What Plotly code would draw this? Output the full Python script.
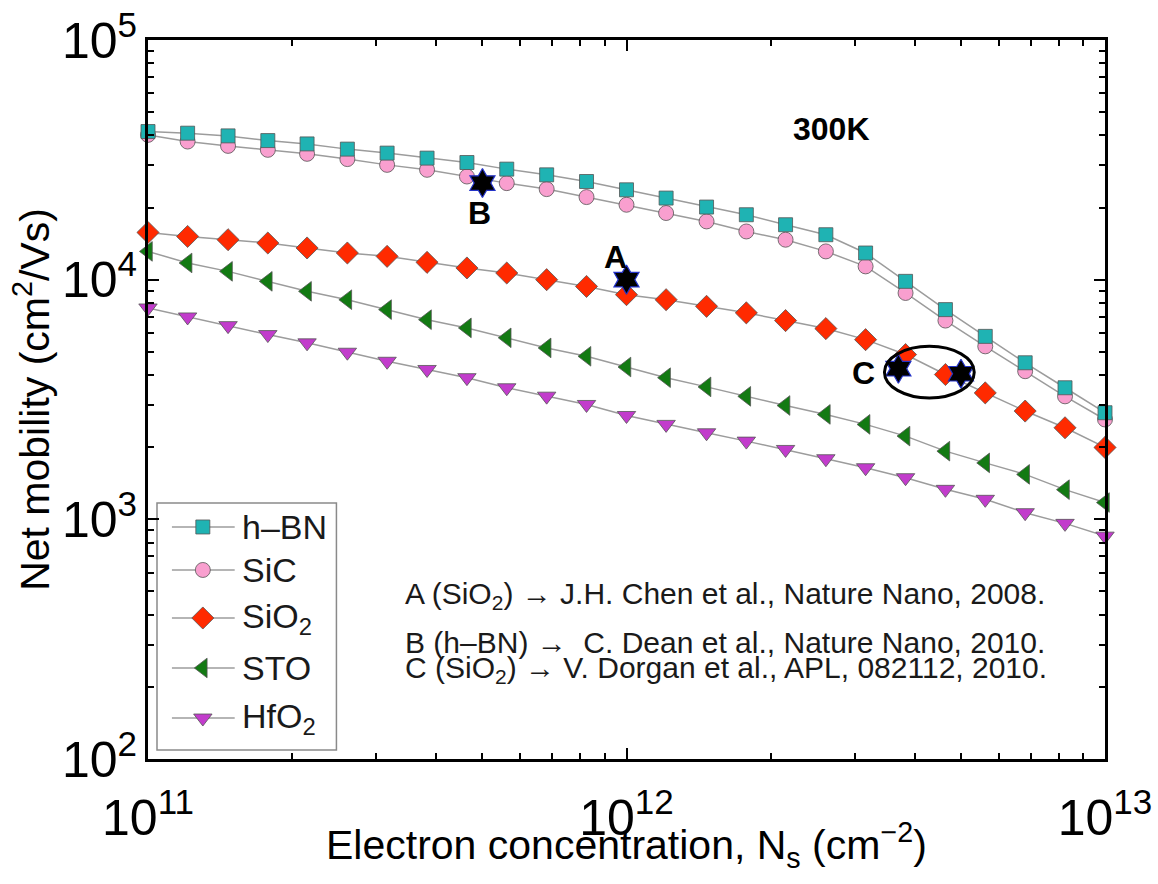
import math
import plotly.graph_objects as go

# Electron concentration grid (cm^-2), log-spaced samples
ns = [1.00e11, 1.21e11, 1.47e11, 1.78e11, 2.15e11, 2.61e11, 3.16e11, 3.83e11,
      4.64e11, 5.62e11, 6.81e11, 8.25e11, 1.00e12, 1.21e12, 1.47e12, 1.78e12,
      2.15e12, 2.61e12, 3.16e12, 3.83e12, 4.64e12, 5.62e12, 6.81e12, 8.25e12,
      1.00e13]

# Net mobility (cm^2/Vs) on each substrate
mu_hbn = [41500, 40850, 39800, 38050, 36850, 35050, 33730, 32150, 30820, 28920,
          27380, 25680, 23710, 21900, 20090, 18660, 16950, 15400, 12920, 9840,
          7500, 5800, 4500, 3540, 2785]
mu_sic = [40190, 37700, 36160, 34810, 33500, 31850, 30130, 28730, 26940, 25280,
          23870, 22110, 20540, 18970, 17500, 15890, 14680, 13120, 11360, 8800,
          6750, 5270, 4150, 3260, 2610]
mu_sio2 = [15740, 15150, 14680, 14220, 13560, 12920, 12510, 11810, 11190, 10660,
           10000, 9370, 8660, 8250, 7740, 7270, 6750, 6250, 5620, 4870,
           4020, 3370, 2830, 2410, 1995]
mu_sto = [13120, 11740, 10830, 9840, 8940, 8250, 7500, 6810, 6290, 5720,
          5190, 4790, 4320, 3900, 3570, 3260, 2985, 2740, 2490, 2225,
          1925, 1720, 1540, 1330, 1175]
mu_hfo2 = [7620, 6990, 6430, 5900, 5450, 4980, 4566, 4220, 3900, 3540,
           3265, 3015, 2712, 2490, 2297, 2120, 1957, 1790, 1642, 1492,
           1334, 1212, 1066, 962, 851]

# Experimental data points A, B, C
exp_ns = [1.0e12, 5.0e11, 3.7e12, 5.0e12]
exp_mu = [10000, 25300, 4250, 4050]

# Tags for the experimental points: (letter, Ns, mobility)
tags = [("A", 9.5e11, 12470), ("B", 4.94e11, 19000), ("C", 3.13e12, 4060)]

# Literature sources of the experimental points
sources = [
    "A (SiO<sub>2</sub>) \u2192 J.H. Chen et al., Nature Nano, 2008.",
    "B (h\u2013BN) \u2192  C. Dean et al., Nature Nano, 2010.",
    "C (SiO<sub>2</sub>) \u2192 V. Dorgan et al., APL, 082112, 2010.",
]

FONT = "Liberation Sans, Arial, Helvetica, sans-serif"
LINE = dict(color="#9c9c9c", width=1.5)
EDGE = dict(color="#555555", width=0.8)

# name, values, symbol, colour, size  (legend order)
series = [
    ("h\u2013BN", mu_hbn, "square", "#1fb3b3", 14),
    ("SiC", mu_sic, "circle", "#f99fcf", 15),
    ("SiO<sub>2</sub>", mu_sio2, "diamond", "#ff2a00", 17),
    ("STO", mu_sto, "triangle-left", "#137a13", 17),
    ("HfO<sub>2</sub>", mu_hfo2, "triangle-down", "#c23ccc", 16),
]

fig = go.Figure()

# SiC first so the h-BN squares sit on top of the circles
draw_order = [1, 0, 2, 3, 4]
for k in draw_order:
    name, vals, sym, col, size = series[k]
    fig.add_trace(go.Scatter(
        x=ns, y=vals, name=name, mode="lines+markers", showlegend=False,
        line=LINE, cliponaxis=False,
        marker=dict(symbol=sym, color=col, size=size, line=EDGE),
    ))

fig.add_trace(go.Scatter(
    x=exp_ns, y=exp_mu, mode="markers", showlegend=False, cliponaxis=False,
    marker=dict(symbol="hexagram", color="black", size=22,
                line=dict(color="#2433c8", width=1.2)),
))

for t, xv, yv in tags:
    fig.add_annotation(x=math.log10(xv), y=math.log10(yv), text=f"<b>{t}</b>",
                       showarrow=False, font=dict(family=FONT, size=32, color="black"))

fig.add_annotation(x=math.log10(2.68e12), y=math.log10(42500), text="<b>300K</b>",
                   showarrow=False, font=dict(family=FONT, size=32, color="black"))

# ellipse around the C points
fig.add_shape(type="circle", xref="x", yref="y",
              x0=3.46e12, x1=5.33e12, y0=3210, y1=5270,
              line=dict(color="black", width=3))

for txt, yp in zip(sources, [0.227, 0.162, 0.124]):
    fig.add_annotation(xref="paper", yref="paper", x=0.266, y=yp, text=txt,
                       xanchor="left", yanchor="middle", showarrow=False,
                       font=dict(family=FONT, size=30, color="#1a1a1a"))

# ---- legend box drawn on an overlay axis pair spanning the plot area (0..1) ----
leg_y = [0.3227, 0.2629, 0.1961, 0.1266, 0.0570]
seg_x = [0.025, 0.0906]
mark_x = 0.0573
fig.add_shape(type="rect", xref="paper", yref="paper",
              x0=0.0094, x1=0.1969, y0=0.0125, y1=0.356,
              line=dict(color="#8a8a8a", width=1.5), fillcolor="white", layer="below")
for (name, vals, sym, col, size), yl in zip(series, leg_y):
    fig.add_trace(go.Scatter(
        x=seg_x, y=[yl, yl], xaxis="x2", yaxis="y2", mode="lines",
        line=LINE, showlegend=False, hoverinfo="skip", cliponaxis=False,
    ))
    fig.add_trace(go.Scatter(
        x=[mark_x], y=[yl], xaxis="x2", yaxis="y2", mode="markers",
        marker=dict(symbol=sym, color=col, size=size, line=EDGE),
        showlegend=False, hoverinfo="skip", cliponaxis=False,
    ))
    fig.add_annotation(xref="paper", yref="paper", x=0.0958, y=yl, text=name,
                       xanchor="left", yanchor="middle", showarrow=False,
                       font=dict(family=FONT, size=34, color="#1a1a1a"))

axis_common = dict(
    type="log", showline=True, linecolor="black", linewidth=3, mirror="allticks",
    ticks="inside", ticklen=11, tickwidth=2, tickcolor="black",
    showgrid=False, zeroline=False, dtick=1, exponentformat="power",
    automargin=False,
    tickfont=dict(family=FONT, size=40, color="black"),
    minor=dict(ticks="inside", ticklen=6, tickwidth=1.5, tickcolor="black",
               dtick="D1", showgrid=False),
)

fig.update_xaxes(**axis_common, range=[11, 13], ticklabelstandoff=15)
fig.update_yaxes(**axis_common, range=[2, 5],
                 title=dict(text="Net mobility (cm<sup>2</sup>/Vs)",
                            font=dict(family=FONT, size=41, color="black"), standoff=0))

fig.add_annotation(xref="paper", yref="paper", x=0.5, y=-0.119,
                   text="Electron concentration, N<sub>s</sub> (cm<sup>\u22122</sup>)",
                   showarrow=False, xanchor="center", yanchor="middle",
                   font=dict(family=FONT, size=41, color="black"))

fig.update_layout(
    width=1158, height=884,
    margin=dict(l=148, r=53, t=40, b=125),
    paper_bgcolor="white", plot_bgcolor="white",
    font=dict(family=FONT, color="black"),
    showlegend=False,
    xaxis2=dict(overlaying="x", range=[0, 1], visible=False, anchor="y2"),
    yaxis2=dict(overlaying="y", range=[0, 1], visible=False, anchor="x2"),
)

fig.write_html("out.html")
